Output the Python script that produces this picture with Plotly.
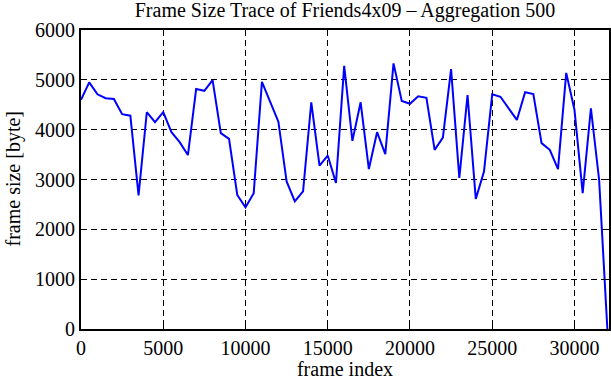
import plotly.graph_objects as go

frame_index = list(range(0, 32001, 500))
frame_size = [
    4600, 4950, 4710, 4630, 4615, 4310, 4280, 2680, 4350, 4150,
    4350, 3950, 3750, 3490, 4815, 4780, 4995, 3930, 3815, 2690,
    2440, 2725, 4960, 4560, 4160, 2960, 2560, 2760, 4550, 3280,
    3480, 2930, 5280, 3775, 4550, 3210, 3950, 3510, 5330, 4575,
    4520, 4670, 4640, 3595, 3840, 5215, 3030, 4695, 2610, 3160,
    4710, 4660, 4430, 4195, 4750, 4715, 3730, 3595, 3210, 5140,
    4400, 2725, 4430, 2990, 0,
]
x_ticks = [0, 5000, 10000, 15000, 20000, 25000, 30000]
x_tick_labels = ["0", "5000", "10000", "15000", "20000", "25000", "30000"]
y_ticks = [0, 1000, 2000, 3000, 4000, 5000, 6000]
y_tick_labels = ["0", "1000", "2000", "3000", "4000", "5000", "6000"]

font = dict(family="Liberation Serif, Times New Roman, serif", size=20, color="black")
title_font = dict(family="Liberation Serif, Times New Roman, serif", size=20, color="black")

fig = go.Figure()
fig.add_trace(go.Scatter(
    x=frame_index, y=frame_size, mode="lines",
    line=dict(color="#0000ff", width=2), showlegend=False,
))

axis_common = dict(
    showline=True, linecolor="black", linewidth=2, mirror="ticks",
    ticks="inside", ticklen=6, tickwidth=1, tickcolor="black",
    showgrid=True, gridcolor="black", gridwidth=1, griddash="6px,4px",
    zeroline=False, tickfont=font, automargin=False,
)

fig.update_layout(
    width=611, height=380,
    margin=dict(l=81, r=2, t=30, b=51),
    paper_bgcolor="white", plot_bgcolor="white",
    font=font,
    title=dict(text="Frame Size Trace of Friends4x09 \u2013 Aggregation 500",
               x=345 / 611, xanchor="center", y=1 - 10 / 380, yanchor="middle",
               font=title_font),
    xaxis=dict(range=[0, 32100], tickvals=x_ticks, ticktext=x_tick_labels,
               title=dict(text="frame index", font=font, standoff=1),
               **axis_common),
    yaxis=dict(range=[0, 6000], tickvals=y_ticks, ticktext=y_tick_labels,
               **axis_common),
    annotations=[dict(text="frame size [byte]", textangle=-90, font=font,
                      xref="paper", yref="paper", x=(13 - 81) / 528, y=0.5,
                      xanchor="center", yanchor="middle", showarrow=False)],
)

fig.write_html("out.html",
               config={"displayModeBar": False},
               post_script="document.body.style.margin='0px';document.body.style.overflow='hidden';")
